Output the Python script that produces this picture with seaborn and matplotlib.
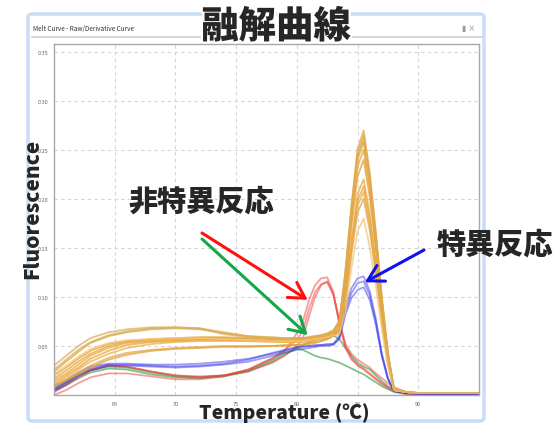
import matplotlib

matplotlib.use("Agg")
import matplotlib.pyplot as plt  # noqa: E402
import matplotlib.patheffects as pe  # noqa: E402
from matplotlib.patches import FancyBboxPatch  # noqa: E402
from matplotlib.lines import Line2D  # noqa: E402
import pandas as pd  # noqa: E402
import seaborn as sns  # noqa: E402

# --- data ---
temps = [60, 61, 62, 63, 64.5, 66, 68, 70, 72, 74, 76, 78, 79, 80, 80.5, 81, 81.5,
         82, 82.5, 83, 83.5, 84, 84.5, 85, 85.5, 86, 86.5, 87, 87.5, 88, 89, 90, 95]

# specific product (orange, peak ~85.5 C)
orange_curves = [
    [0.030, 0.040, 0.050, 0.058, 0.064, 0.067, 0.069, 0.069, 0.068, 0.064, 0.060, 0.059, 0.058, 0.058, 0.058, 0.059, 0.060,
     0.061, 0.062, 0.064, 0.072, 0.121, 0.186, 0.240, 0.258, 0.217, 0.160, 0.095, 0.041, 0.006, 0.003, 0.002, 0.002],
    [0.024, 0.034, 0.044, 0.053, 0.060, 0.064, 0.067, 0.068, 0.067, 0.063, 0.060, 0.058, 0.058, 0.058, 0.058, 0.059, 0.060,
     0.061, 0.063, 0.066, 0.076, 0.127, 0.194, 0.251, 0.270, 0.227, 0.167, 0.100, 0.043, 0.006, 0.003, 0.002, 0.002],
    [0.020, 0.028, 0.037, 0.045, 0.052, 0.055, 0.057, 0.058, 0.059, 0.059, 0.058, 0.057, 0.057, 0.057, 0.058, 0.058, 0.059,
     0.060, 0.062, 0.065, 0.074, 0.125, 0.191, 0.246, 0.265, 0.223, 0.164, 0.098, 0.042, 0.006, 0.003, 0.002, 0.002],
    [0.017, 0.025, 0.034, 0.042, 0.050, 0.054, 0.056, 0.057, 0.058, 0.058, 0.057, 0.056, 0.056, 0.056, 0.057, 0.057, 0.058,
     0.059, 0.061, 0.064, 0.070, 0.118, 0.180, 0.233, 0.250, 0.210, 0.155, 0.093, 0.040, 0.005, 0.003, 0.002, 0.002],
    [0.015, 0.022, 0.031, 0.040, 0.048, 0.053, 0.055, 0.056, 0.057, 0.057, 0.056, 0.055, 0.055, 0.055, 0.056, 0.056, 0.057,
     0.058, 0.060, 0.063, 0.066, 0.103, 0.158, 0.205, 0.220, 0.185, 0.136, 0.081, 0.035, 0.005, 0.003, 0.002, 0.002],
    [0.013, 0.020, 0.028, 0.037, 0.045, 0.051, 0.054, 0.055, 0.056, 0.056, 0.055, 0.055, 0.054, 0.054, 0.055, 0.055, 0.056,
     0.057, 0.059, 0.062, 0.065, 0.100, 0.153, 0.198, 0.213, 0.179, 0.132, 0.079, 0.034, 0.005, 0.003, 0.002, 0.002],
    [0.011, 0.018, 0.026, 0.034, 0.042, 0.048, 0.052, 0.054, 0.055, 0.055, 0.055, 0.054, 0.054, 0.054, 0.054, 0.055, 0.056,
     0.057, 0.058, 0.061, 0.064, 0.097, 0.149, 0.193, 0.207, 0.174, 0.128, 0.077, 0.033, 0.005, 0.003, 0.002, 0.002],
    [0.010, 0.016, 0.023, 0.030, 0.038, 0.043, 0.046, 0.048, 0.049, 0.050, 0.050, 0.050, 0.051, 0.051, 0.052, 0.053, 0.054,
     0.055, 0.057, 0.060, 0.063, 0.094, 0.144, 0.186, 0.200, 0.168, 0.124, 0.074, 0.032, 0.005, 0.003, 0.002, 0.002],
    [0.009, 0.015, 0.021, 0.028, 0.036, 0.041, 0.045, 0.047, 0.048, 0.049, 0.049, 0.050, 0.050, 0.051, 0.051, 0.052, 0.053,
     0.055, 0.057, 0.061, 0.068, 0.113, 0.173, 0.223, 0.240, 0.202, 0.149, 0.089, 0.038, 0.005, 0.003, 0.002, 0.002],
    [0.022, 0.030, 0.039, 0.047, 0.053, 0.056, 0.057, 0.058, 0.058, 0.057, 0.056, 0.055, 0.055, 0.055, 0.055, 0.056, 0.057,
     0.058, 0.059, 0.061, 0.062, 0.085, 0.130, 0.167, 0.180, 0.151, 0.112, 0.067, 0.029, 0.005, 0.003, 0.002, 0.002],
    [0.026, 0.036, 0.046, 0.054, 0.061, 0.065, 0.068, 0.069, 0.068, 0.062, 0.059, 0.058, 0.057, 0.057, 0.058, 0.058, 0.059,
     0.060, 0.062, 0.065, 0.073, 0.122, 0.187, 0.242, 0.260, 0.218, 0.161, 0.096, 0.042, 0.006, 0.003, 0.002, 0.002],
]
orange_colors = ["#D8B060", "#E0A840", "#E8A030", "#E9A235", "#EDAA3C", "#E6A43A",
                 "#EFAE45", "#DDA850", "#E5A033", "#F5C678", "#D9AE5C"]

# specific product, low yield (blue)
blue_curves = [
    [0.006, 0.013, 0.021, 0.027, 0.031, 0.031, 0.030, 0.029, 0.030, 0.032, 0.036, 0.043, 0.046, 0.049, 0.050, 0.050, 0.051,
     0.051, 0.052, 0.052, 0.060, 0.090, 0.109, 0.119, 0.121, 0.106, 0.078, 0.042, 0.017, 0.004, 0.002, 0.001, 0.001],
    [0.004, 0.011, 0.019, 0.025, 0.030, 0.030, 0.029, 0.028, 0.029, 0.031, 0.034, 0.040, 0.043, 0.046, 0.047, 0.048, 0.049,
     0.050, 0.050, 0.051, 0.057, 0.082, 0.099, 0.107, 0.110, 0.097, 0.072, 0.039, 0.016, 0.004, 0.002, 0.001, 0.001],
    [0.008, 0.015, 0.023, 0.029, 0.032, 0.032, 0.031, 0.031, 0.032, 0.034, 0.037, 0.042, 0.045, 0.048, 0.049, 0.050, 0.050,
     0.051, 0.051, 0.052, 0.058, 0.086, 0.104, 0.114, 0.116, 0.102, 0.075, 0.041, 0.017, 0.004, 0.002, 0.001, 0.001],
]

# non-specific product (red, peak ~82.5 C)
red_curves = [
    [0.003, 0.010, 0.018, 0.025, 0.030, 0.029, 0.024, 0.020, 0.018, 0.020, 0.026, 0.037, 0.045, 0.063, 0.075, 0.097, 0.112,
     0.119, 0.120, 0.105, 0.072, 0.048, 0.036, 0.031, 0.027, 0.022, 0.017, 0.012, 0.008, 0.005, 0.002, 0.000, 0.000],
    [0.000, 0.005, 0.012, 0.018, 0.022, 0.022, 0.019, 0.016, 0.016, 0.019, 0.026, 0.038, 0.046, 0.056, 0.066, 0.088, 0.105,
     0.113, 0.115, 0.102, 0.075, 0.052, 0.042, 0.036, 0.032, 0.028, 0.022, 0.017, 0.012, 0.008, 0.003, 0.001, 0.000],
    [0.005, 0.012, 0.020, 0.026, 0.030, 0.029, 0.024, 0.020, 0.019, 0.020, 0.024, 0.033, 0.040, 0.050, 0.058, 0.080, 0.100,
     0.112, 0.116, 0.104, 0.075, 0.050, 0.038, 0.030, 0.026, 0.021, 0.016, 0.011, 0.007, 0.004, 0.001, 0.000, 0.000],
]

# no clear peak (green)
green_curves = [
    [0.006, 0.013, 0.020, 0.025, 0.029, 0.028, 0.023, 0.019, 0.018, 0.020, 0.025, 0.036, 0.043, 0.047, 0.046, 0.043, 0.040,
     0.038, 0.037, 0.035, 0.033, 0.030, 0.027, 0.024, 0.021, 0.017, 0.013, 0.009, 0.006, 0.003, 0.001, 0.000, 0.000],
    [0.004, 0.010, 0.017, 0.023, 0.027, 0.026, 0.021, 0.018, 0.017, 0.019, 0.024, 0.034, 0.041, 0.048, 0.051, 0.054, 0.056,
     0.058, 0.060, 0.061, 0.057, 0.048, 0.040, 0.033, 0.029, 0.026, 0.020, 0.014, 0.009, 0.005, 0.002, 0.000, 0.000],
]

y_ticks = [0.05, 0.10, 0.15, 0.20, 0.25, 0.30, 0.35]
x_ticks = [65, 70, 75, 80, 85, 90]

W, H = 559, 427
JP = ["Noto Sans CJK JP", "DejaVu Sans"]


def px(x, y):
    # figure pixel (from top-left) -> figure fraction
    return x / W, 1 - y / H


def long_df(curves, prefix):
    rows = []
    for i, vals in enumerate(curves):
        for t, v in zip(temps, vals):
            rows.append({"temp": t, "fluor": v, "curve": f"{prefix}{i}"})
    return pd.DataFrame(rows)


sns.set_style("white")
plt.rcParams["font.family"] = JP

fig = plt.figure(figsize=(W / 100, H / 100), dpi=100)
fig.patch.set_facecolor("white")

# window frame of the instrument software
frame = FancyBboxPatch(px(28, 422), (484 - 28) / W, (422 - 15) / H,
                       boxstyle="round,pad=0,rounding_size=0.008",
                       transform=fig.transFigure, fc="none", ec="#C8DEF6", lw=2.5)
fig.patches.append(frame)
fig.lines.append(Line2D([32 / W, 482 / W], [1 - 38 / H] * 2, transform=fig.transFigure,
                        color="#D6D6D6", lw=1.5))
fig.text(*px(33, 29), "Melt Curve - Raw/Derivative Curve", fontsize=4.6, color="#333333",
         ha="left", va="center")
fig.text(*px(469, 29), "▮ ×", fontsize=5.5, color="#9A9A9A", ha="center", va="center",
         family=["DejaVu Sans"])

ax = fig.add_axes([54 / W, 1 - 396 / H, (479 - 54) / W, (396 - 45) / H])

groups = [
    (green_curves, "g", ["#2F9A3A"] * len(green_curves), 0.6),
    (red_curves, "r", ["#F03A3A"] * len(red_curves), 0.5),
    (blue_curves, "b", ["#3A3AE8"] * len(blue_curves), 0.5),
    (orange_curves, "o", orange_colors, 0.75),
]
for curves, prefix, colors, alpha in groups:
    d = long_df(curves, prefix)
    sns.lineplot(data=d, x="temp", y="fluor", hue="curve", palette=colors,
                 estimator=None, sort=False, legend=False, lw=1.3, alpha=alpha, ax=ax)

ax.set_xlim(60, 95)
ax.set_ylim(0, 0.358)
ax.set_xticks(x_ticks)
ax.set_xticklabels([str(t) for t in x_ticks])
ax.set_yticks(y_ticks)
ax.set_yticklabels([f"{t:.2f}" for t in y_ticks])
ax.tick_params(length=0, pad=4, labelsize=4, labelcolor="#666666")
ax.set_xlabel("")
ax.set_ylabel("")
ax.grid(True, color="#D4D4D4", lw=0.8, ls=(0, (3, 3)))
for s in ax.spines.values():
    s.set_color("#A8A8A8")
    s.set_linewidth(1.0)

halo = [pe.withStroke(linewidth=3, foreground="white")]

# big overlay labels
fig.text(*px(276, 28), "融解曲線", fontsize=27, fontweight="black", ha="center", va="center",
         family=JP, path_effects=halo)
fig.text(*px(32, 209), "Fluorescence", fontsize=15, fontweight="black", rotation=90,
         ha="center", va="center", family=JP)
fig.text(*px(284, 413), "Temperature (℃)", fontsize=14, fontweight="black",
         ha="center", va="center", family=JP)
fig.text(*px(201, 202), "非特異反応", fontsize=21, fontweight="black", ha="center", va="center",
         family=JP)
fig.text(*px(495, 245), "特異反応", fontsize=21, fontweight="black", ha="center", va="center",
         family=JP)

arrow_style = "->,head_length=0.7,head_width=0.4"
ax.annotate("", xy=(80.9, 0.097), xycoords="data", xytext=px(202, 234),
            textcoords="figure fraction", annotation_clip=False,
            arrowprops=dict(arrowstyle=arrow_style, color="#FF1010", lw=2.2,
                            mutation_scale=16, shrinkA=0, shrinkB=0))
ax.annotate("", xy=(80.9, 0.061), xycoords="data", xytext=px(202, 240),
            textcoords="figure fraction", annotation_clip=False,
            arrowprops=dict(arrowstyle=arrow_style, color="#12A84A", lw=2.2,
                            mutation_scale=16, shrinkA=0, shrinkB=0))
ax.annotate("", xy=(85.6, 0.115), xycoords="data", xytext=px(424, 251),
            textcoords="figure fraction", annotation_clip=False,
            arrowprops=dict(arrowstyle=arrow_style, color="#1010F0", lw=2.2,
                            mutation_scale=16, shrinkA=0, shrinkB=0))

fig.savefig("out.png", dpi=100)
plt.close(fig)
